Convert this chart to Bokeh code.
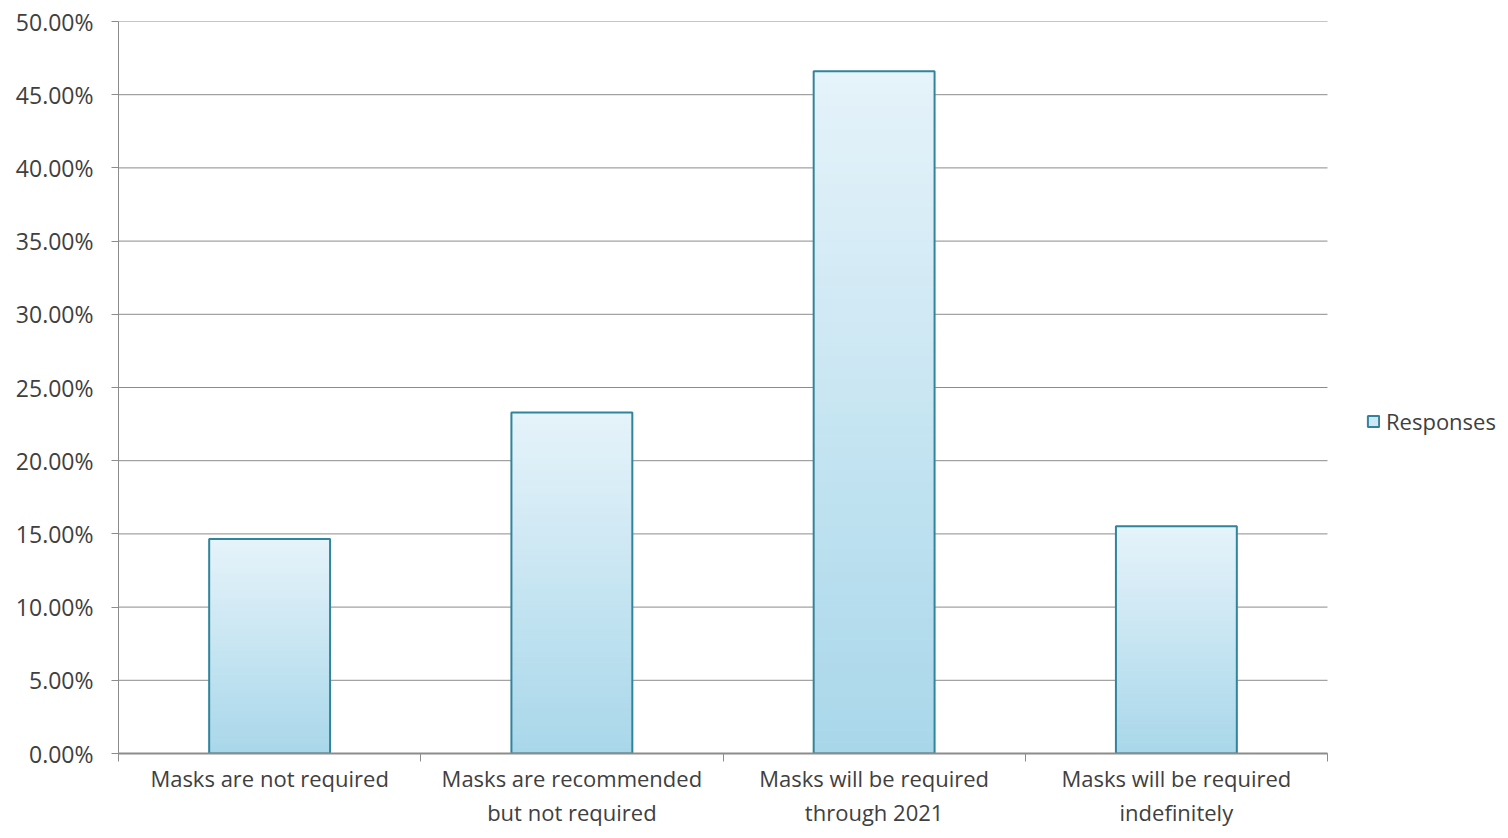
from bokeh.plotting import figure
from bokeh.models import (FixedTicker, NumeralTickFormatter, Range1d, Legend, LegendItem)
from bokeh.embed import file_html
from bokeh.resources import INLINE
import numpy as np

categories = ["Masks are not required",
              "Masks are recommended\nbut not required",
              "Masks will be required\nthrough 2021",
              "Masks will be required\nindefinitely"]
values = [0.1465, 0.2330, 0.4660, 0.1553]
y_ticks = [0.0, 0.05, 0.10, 0.15, 0.20, 0.25, 0.30, 0.35, 0.40, 0.45, 0.50]

FONT = "Open Sans"
TOP_COL = np.array([230, 243, 250])
BOT_COL = np.array([168, 215, 234])
EDGE = "#31849B"
GRID = "#8C8C8C"

W, H = 1500, 830
LEFT = 118
PLOT_W = 1209  # width of the category area in px
ncat = len(categories)
x_end = ncat * (W - LEFT) / PLOT_W  # extra room on the right for the legend

p = figure(width=W, height=H, output_backend="svg", toolbar_location=None,
           x_range=Range1d(0, x_end), y_range=Range1d(0, 0.5),
           min_border_left=LEFT, min_border_right=0, min_border_top=21,
           min_border_bottom=70)
p.outline_line_color = None
p.background_fill_color = "white"

# horizontal grid lines limited to the category area
p.segment(x0=[0] * len(y_ticks), x1=[ncat] * len(y_ticks), y0=y_ticks, y1=y_ticks,
          line_color=GRID, line_width=1)

# gradient bars built from slices
n = 60
centers = [i + 0.5 for i in range(ncat)]
bw = 0.4
lefts, rights, bottoms, tops, cols = [], [], [], [], []
for c, v in zip(centers, values):
    for k in range(n):
        f = (k + 0.5) / n
        rgb = BOT_COL + (TOP_COL - BOT_COL) * f
        lefts.append(c - bw / 2)
        rights.append(c + bw / 2)
        bottoms.append(v * k / n)
        tops.append(v * (k + 1) / n)
        cols.append("#%02x%02x%02x" % tuple(int(round(x)) for x in rgb))
p.quad(left=lefts, right=rights, bottom=bottoms, top=tops, fill_color=cols,
       line_color=cols, line_width=1)
p.vbar(x=centers, top=values, width=bw, bottom=0, fill_color=None,
       line_color=EDGE, line_width=2)

# legend proxy (placed outside the visible range)
proxy = p.quad(left=[-2], right=[-1], bottom=[-1], top=[-0.5], fill_color="#CDE8F4",
               line_color=EDGE, line_width=2)
legend = Legend(items=[LegendItem(label="Responses", renderers=[proxy])],
                location=(1248, 317), border_line_color=None,
                background_fill_alpha=0, label_text_font=FONT,
                label_text_font_size="22px", label_text_color="#404040",
                glyph_width=14, glyph_height=14, label_standoff=6, padding=2,
                margin=0)
p.add_layout(legend, "center")

# y axis
p.yaxis.ticker = FixedTicker(ticks=y_ticks)
p.yaxis.formatter = NumeralTickFormatter(format="0.00%")
p.yaxis.major_label_text_font = FONT
p.yaxis.major_label_text_font_size = "23px"
p.yaxis.major_label_text_color = "#404040"
p.yaxis.axis_line_color = GRID
p.yaxis.major_tick_line_color = GRID
p.yaxis.major_tick_out = 7
p.yaxis.major_tick_in = 0
p.yaxis.minor_tick_line_color = None
p.yaxis.major_label_standoff = 18

# x axis: labels at centers, ticks at boundaries
p.xaxis.bounds = (0, ncat)
p.xaxis.ticker = FixedTicker(ticks=centers, minor_ticks=list(range(ncat + 1)))
p.xaxis.major_label_overrides = {c: lab for c, lab in zip(centers, categories)}
p.xaxis.major_tick_out = 0
p.xaxis.major_tick_in = 0
p.xaxis.minor_tick_out = 8
p.xaxis.minor_tick_in = 0
p.xaxis.minor_tick_line_color = GRID
p.xaxis.axis_line_color = GRID
p.xaxis.axis_line_width = 2
p.xaxis.major_label_text_font = FONT
p.xaxis.major_label_text_font_size = "22px"
p.xaxis.major_label_text_color = "#404040"
p.xaxis.major_label_standoff = 1
p.xaxis.major_label_text_line_height = 1.15

p.xgrid.grid_line_color = None
p.ygrid.grid_line_color = None

open("out.html", "w").write(file_html(p, INLINE))
